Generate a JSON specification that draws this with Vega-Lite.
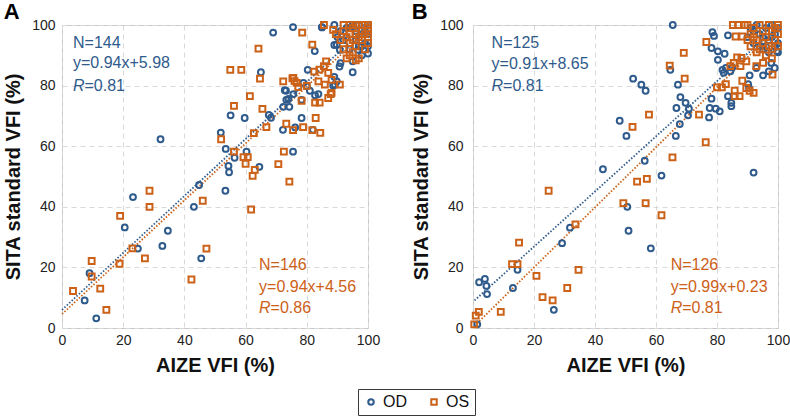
{
  "$schema": "https://vega.github.io/schema/vega-lite/v6.json",
  "background": "white",
  "padding": {"left": 3, "top": 0, "right": 0, "bottom": 0},
  "spacing": 30,
  "datasets": {
    "pts": [
      {"panel":"A","eye":"OD","x":69,"y":97.5},{"panel":"A","eye":"OD","x":75.5,"y":99.3},{"panel":"A","eye":"OD","x":85,"y":99.2},{"panel":"A","eye":"OD","x":89,"y":100},{"panel":"A","eye":"OD","x":82.6,"y":91.4},{"panel":"A","eye":"OD","x":65,"y":84.4},{"panel":"A","eye":"OD","x":80.3,"y":85.2},{"panel":"A","eye":"OD","x":55.1,"y":70.2},{"panel":"A","eye":"OD","x":59.7,"y":69.3},{"panel":"A","eye":"OD","x":67.6,"y":70.3},{"panel":"A","eye":"OD","x":68.3,"y":69.4},{"panel":"A","eye":"OD","x":72.8,"y":78.5},{"panel":"A","eye":"OD","x":73.3,"y":75.3},{"panel":"A","eye":"OD","x":74.3,"y":73},{"panel":"A","eye":"OD","x":72.3,"y":73},{"panel":"A","eye":"OD","x":72.2,"y":65.4},{"panel":"A","eye":"OD","x":76.2,"y":66.2},{"panel":"A","eye":"OD","x":78.3,"y":69.3},{"panel":"A","eye":"OD","x":75.5,"y":58.2},{"panel":"A","eye":"OD","x":78.9,"y":80.9},{"panel":"A","eye":"OD","x":80,"y":79.8},{"panel":"A","eye":"OD","x":81,"y":78.3},{"panel":"A","eye":"OD","x":82.7,"y":76.8},{"panel":"A","eye":"OD","x":83.8,"y":77.2},{"panel":"A","eye":"OD","x":73.2,"y":78.3},{"panel":"A","eye":"OD","x":75.6,"y":77.2},{"panel":"A","eye":"OD","x":74,"y":75.6},{"panel":"A","eye":"OD","x":78.3,"y":75.3},{"panel":"A","eye":"OD","x":82,"y":65.4},{"panel":"A","eye":"OD","x":88.6,"y":80},{"panel":"A","eye":"OD","x":89,"y":82.9},{"panel":"A","eye":"OD","x":89.2,"y":80.3},{"panel":"A","eye":"OD","x":89.8,"y":81.4},{"panel":"A","eye":"OD","x":90.7,"y":86.3},{"panel":"A","eye":"OD","x":91,"y":87.4},{"panel":"A","eye":"OD","x":89,"y":93.4},{"panel":"A","eye":"OD","x":95,"y":84.4},{"panel":"A","eye":"OD","x":100,"y":90.6},{"panel":"A","eye":"OD","x":96.7,"y":91.8},{"panel":"A","eye":"OD","x":97.8,"y":92.9},{"panel":"A","eye":"OD","x":51.9,"y":64.5},{"panel":"A","eye":"OD","x":53.5,"y":59.1},{"panel":"A","eye":"OD","x":56.4,"y":56.2},{"panel":"A","eye":"OD","x":60.3,"y":58.2},{"panel":"A","eye":"OD","x":54.4,"y":53.5},{"panel":"A","eye":"OD","x":54.6,"y":51.4},{"panel":"A","eye":"OD","x":64.5,"y":53.2},{"panel":"A","eye":"OD","x":53.4,"y":45.3},{"panel":"A","eye":"OD","x":44.8,"y":47.2},{"panel":"A","eye":"OD","x":32.2,"y":62.3},{"panel":"A","eye":"OD","x":23.2,"y":43.2},{"panel":"A","eye":"OD","x":43.1,"y":40},{"panel":"A","eye":"OD","x":20.5,"y":33.2},{"panel":"A","eye":"OD","x":34.6,"y":32.1},{"panel":"A","eye":"OD","x":32.8,"y":27.1},{"panel":"A","eye":"OD","x":24.8,"y":26.2},{"panel":"A","eye":"OD","x":45.5,"y":23},{"panel":"A","eye":"OD","x":9,"y":18.1},{"panel":"A","eye":"OD","x":7.4,"y":9.1},{"panel":"A","eye":"OD","x":11.2,"y":3.2},{"panel":"A","eye":"OD","x":90.8,"y":91.8},{"panel":"A","eye":"OD","x":89.8,"y":93.5},{"panel":"A","eye":"OD","x":84.9,"y":99.3},
      {"panel":"A","eye":"OD","x":91,"y":98},{"panel":"A","eye":"OD","x":93,"y":99},{"panel":"A","eye":"OD","x":95,"y":100},{"panel":"A","eye":"OD","x":96,"y":95},{"panel":"A","eye":"OD","x":98,"y":97},{"panel":"A","eye":"OD","x":99,"y":99},{"panel":"A","eye":"OD","x":100,"y":97},{"panel":"A","eye":"OD","x":97,"y":93},{"panel":"A","eye":"OD","x":94,"y":92},{"panel":"A","eye":"OD","x":92,"y":95},{"panel":"A","eye":"OD","x":100,"y":100},{"panel":"A","eye":"OD","x":98,"y":90},{"panel":"A","eye":"OD","x":90,"y":96},{"panel":"A","eye":"OD","x":96,"y":98},{"panel":"A","eye":"OD","x":99,"y":94},{"panel":"A","eye":"OD","x":93,"y":96},{"panel":"A","eye":"OD","x":97,"y":100},{"panel":"A","eye":"OD","x":100,"y":93},{"panel":"A","eye":"OD","x":95,"y":88},{"panel":"A","eye":"OD","x":94,"y":99},
      {"panel":"B","eye":"OD","x":65.5,"y":100},{"panel":"B","eye":"OD","x":78.5,"y":97.6},{"panel":"B","eye":"OD","x":79,"y":96.4},{"panel":"B","eye":"OD","x":83.6,"y":96.6},{"panel":"B","eye":"OD","x":78.2,"y":92.4},{"panel":"B","eye":"OD","x":80.3,"y":91.3},{"panel":"B","eye":"OD","x":82.5,"y":90.5},{"panel":"B","eye":"OD","x":80.3,"y":88.5},{"panel":"B","eye":"OD","x":64.7,"y":85.2},{"panel":"B","eye":"OD","x":81.8,"y":85.2},{"panel":"B","eye":"OD","x":82.9,"y":85.8},{"panel":"B","eye":"OD","x":84.4,"y":84.7},{"panel":"B","eye":"OD","x":82.2,"y":84.2},{"panel":"B","eye":"OD","x":85,"y":86},{"panel":"B","eye":"OD","x":67.2,"y":80.3},{"panel":"B","eye":"OD","x":52.5,"y":82.3},{"panel":"B","eye":"OD","x":55.2,"y":80.3},{"panel":"B","eye":"OD","x":56.6,"y":78.3},{"panel":"B","eye":"OD","x":68,"y":76.2},{"panel":"B","eye":"OD","x":69.7,"y":74.3},{"panel":"B","eye":"OD","x":70.8,"y":72.4},{"panel":"B","eye":"OD","x":70.5,"y":70.2},{"panel":"B","eye":"OD","x":66.7,"y":72.6},{"panel":"B","eye":"OD","x":67.8,"y":67.3},{"panel":"B","eye":"OD","x":48.1,"y":68.4},{"panel":"B","eye":"OD","x":77.6,"y":72.6},{"panel":"B","eye":"OD","x":79.6,"y":72.4},{"panel":"B","eye":"OD","x":80.9,"y":71.5},{"panel":"B","eye":"OD","x":77.4,"y":69.5},{"panel":"B","eye":"OD","x":78.2,"y":75.7},{"panel":"B","eye":"OD","x":83.6,"y":76.5},{"panel":"B","eye":"OD","x":84.7,"y":74.3},{"panel":"B","eye":"OD","x":84.7,"y":73.2},{"panel":"B","eye":"OD","x":90.2,"y":80.5},{"panel":"B","eye":"OD","x":90.5,"y":79.2},{"panel":"B","eye":"OD","x":97.8,"y":87.5},{"panel":"B","eye":"OD","x":97,"y":84.7},{"panel":"B","eye":"OD","x":95.1,"y":83.4},{"panel":"B","eye":"OD","x":98.9,"y":85.8},{"panel":"B","eye":"OD","x":90.7,"y":83.4},{"panel":"B","eye":"OD","x":92.9,"y":85.8},{"panel":"B","eye":"OD","x":99.7,"y":91.4},{"panel":"B","eye":"OD","x":92,"y":51.3},{"panel":"B","eye":"OD","x":50.3,"y":63.4},{"panel":"B","eye":"OD","x":56.3,"y":55.2},{"panel":"B","eye":"OD","x":42.6,"y":52.4},{"panel":"B","eye":"OD","x":61.8,"y":50.3},{"panel":"B","eye":"OD","x":66.5,"y":63.4},{"panel":"B","eye":"OD","x":50.6,"y":40},{"panel":"B","eye":"OD","x":51,"y":32.1},{"panel":"B","eye":"OD","x":58.3,"y":26.3},{"panel":"B","eye":"OD","x":31.8,"y":33.1},{"panel":"B","eye":"OD","x":29.2,"y":28},{"panel":"B","eye":"OD","x":14.6,"y":19.2},{"panel":"B","eye":"OD","x":13.1,"y":13.2},{"panel":"B","eye":"OD","x":2,"y":15.1},{"panel":"B","eye":"OD","x":3.9,"y":16.2},{"panel":"B","eye":"OD","x":4.4,"y":13.9},{"panel":"B","eye":"OD","x":4.6,"y":11.2},{"panel":"B","eye":"OD","x":26.5,"y":6},{"panel":"B","eye":"OD","x":1.4,"y":1.2},
      {"panel":"B","eye":"OD","x":90,"y":96},{"panel":"B","eye":"OD","x":91,"y":99},{"panel":"B","eye":"OD","x":92,"y":94},{"panel":"B","eye":"OD","x":93,"y":100},{"panel":"B","eye":"OD","x":94,"y":97},{"panel":"B","eye":"OD","x":95,"y":92},{"panel":"B","eye":"OD","x":96,"y":99},{"panel":"B","eye":"OD","x":97,"y":95},{"panel":"B","eye":"OD","x":98,"y":100},{"panel":"B","eye":"OD","x":99,"y":97},{"panel":"B","eye":"OD","x":100,"y":94},{"panel":"B","eye":"OD","x":100,"y":99},{"panel":"B","eye":"OD","x":94,"y":93},{"panel":"B","eye":"OD","x":97,"y":91},{"panel":"B","eye":"OD","x":92,"y":98},{"panel":"B","eye":"OD","x":99,"y":93},{"panel":"B","eye":"OD","x":95,"y":96},{"panel":"B","eye":"OD","x":98,"y":96},{"panel":"B","eye":"OD","x":96,"y":93},{"panel":"B","eye":"OD","x":100,"y":91},
      {"panel":"A","eye":"OS","x":85.6,"y":100},{"panel":"A","eye":"OS","x":88.6,"y":98.4},{"panel":"A","eye":"OS","x":89.5,"y":97},{"panel":"A","eye":"OS","x":78.5,"y":97.5},{"panel":"A","eye":"OS","x":81.8,"y":93.5},{"panel":"A","eye":"OS","x":64.2,"y":92.2},{"panel":"A","eye":"OS","x":55,"y":85.2},{"panel":"A","eye":"OS","x":58.6,"y":85.2},{"panel":"A","eye":"OS","x":64.7,"y":82.3},{"panel":"A","eye":"OS","x":72.3,"y":81.4},{"panel":"A","eye":"OS","x":75.3,"y":82.4},{"panel":"A","eye":"OS","x":76,"y":81.5},{"panel":"A","eye":"OS","x":77.2,"y":79.5},{"panel":"A","eye":"OS","x":80,"y":79.9},{"panel":"A","eye":"OS","x":82.4,"y":84.6},{"panel":"A","eye":"OS","x":84.1,"y":85.3},{"panel":"A","eye":"OS","x":85.6,"y":86.4},{"panel":"A","eye":"OS","x":86.3,"y":88},{"panel":"A","eye":"OS","x":87,"y":84.2},{"panel":"A","eye":"OS","x":83.8,"y":81.4},{"panel":"A","eye":"OS","x":85.9,"y":80.3},{"panel":"A","eye":"OS","x":88.1,"y":81.9},{"panel":"A","eye":"OS","x":90.8,"y":80.3},{"panel":"A","eye":"OS","x":88.1,"y":77.6},{"panel":"A","eye":"OS","x":87,"y":75.9},{"panel":"A","eye":"OS","x":87.8,"y":77.2},{"panel":"A","eye":"OS","x":75.6,"y":82.5},{"panel":"A","eye":"OS","x":76.7,"y":80.9},{"panel":"A","eye":"OS","x":61.4,"y":76.5},{"panel":"A","eye":"OS","x":56.2,"y":73.3},{"panel":"A","eye":"OS","x":65.5,"y":72.3},{"panel":"A","eye":"OS","x":66.8,"y":66.3},{"panel":"A","eye":"OS","x":78.8,"y":66.3},{"panel":"A","eye":"OS","x":82.7,"y":74.4},{"panel":"A","eye":"OS","x":84.2,"y":74.4},{"panel":"A","eye":"OS","x":78.3,"y":75},{"panel":"A","eye":"OS","x":82.9,"y":69.3},{"panel":"A","eye":"OS","x":81.8,"y":65.3},{"panel":"A","eye":"OS","x":84.4,"y":64.4},{"panel":"A","eye":"OS","x":73.3,"y":67.4},{"panel":"A","eye":"OS","x":75.5,"y":65.3},{"panel":"A","eye":"OS","x":62.7,"y":64.3},{"panel":"A","eye":"OS","x":52,"y":62.3},{"panel":"A","eye":"OS","x":56.2,"y":58.2},{"panel":"A","eye":"OS","x":59.3,"y":56.4},{"panel":"A","eye":"OS","x":60.7,"y":56.4},{"panel":"A","eye":"OS","x":60,"y":54.2},{"panel":"A","eye":"OS","x":63,"y":52.2},{"panel":"A","eye":"OS","x":62.3,"y":50.2},{"panel":"A","eye":"OS","x":72.5,"y":58.2},{"panel":"A","eye":"OS","x":70.7,"y":54.1},{"panel":"A","eye":"OS","x":74.3,"y":48.3},{"panel":"A","eye":"OS","x":28.6,"y":45.3},{"panel":"A","eye":"OS","x":28.6,"y":40},{"panel":"A","eye":"OS","x":19,"y":37},{"panel":"A","eye":"OS","x":46,"y":42},{"panel":"A","eye":"OS","x":61.8,"y":39.1},{"panel":"A","eye":"OS","x":23,"y":26.3},{"panel":"A","eye":"OS","x":27.1,"y":23},{"panel":"A","eye":"OS","x":18.8,"y":21.2},{"panel":"A","eye":"OS","x":47.2,"y":26.2},{"panel":"A","eye":"OS","x":42.3,"y":16},{"panel":"A","eye":"OS","x":9.7,"y":22.1},{"panel":"A","eye":"OS","x":9.7,"y":17},{"panel":"A","eye":"OS","x":12.5,"y":13},{"panel":"A","eye":"OS","x":3.6,"y":12.2},{"panel":"A","eye":"OS","x":14.5,"y":6},
      {"panel":"A","eye":"OS","x":92,"y":98},{"panel":"A","eye":"OS","x":93,"y":96},{"panel":"A","eye":"OS","x":94,"y":100},{"panel":"A","eye":"OS","x":95,"y":99},{"panel":"A","eye":"OS","x":96,"y":97},{"panel":"A","eye":"OS","x":97,"y":100},{"panel":"A","eye":"OS","x":98,"y":98},{"panel":"A","eye":"OS","x":99,"y":100},{"panel":"A","eye":"OS","x":100,"y":99},{"panel":"A","eye":"OS","x":100,"y":96},{"panel":"A","eye":"OS","x":98,"y":95},{"panel":"A","eye":"OS","x":96,"y":93},{"panel":"A","eye":"OS","x":94,"y":94},{"panel":"A","eye":"OS","x":92,"y":92},{"panel":"A","eye":"OS","x":95,"y":91},{"panel":"A","eye":"OS","x":97,"y":89},{"panel":"A","eye":"OS","x":99,"y":92},{"panel":"A","eye":"OS","x":100,"y":100},{"panel":"A","eye":"OS","x":93,"y":89},{"panel":"A","eye":"OS","x":91,"y":95},{"panel":"A","eye":"OS","x":97,"y":96},{"panel":"A","eye":"OS","x":99,"y":97},{"panel":"A","eye":"OS","x":100,"y":94},{"panel":"A","eye":"OS","x":96,"y":100},{"panel":"A","eye":"OS","x":94,"y":97},{"panel":"A","eye":"OS","x":92,"y":100},{"panel":"A","eye":"OS","x":98,"y":100},{"panel":"A","eye":"OS","x":100,"y":98},{"panel":"A","eye":"OS","x":95,"y":95},{"panel":"A","eye":"OS","x":96,"y":88.3},{"panel":"A","eye":"OS","x":94,"y":90},
      {"panel":"B","eye":"OS","x":85.2,"y":100},{"panel":"B","eye":"OS","x":86.9,"y":100},{"panel":"B","eye":"OS","x":89.1,"y":100},{"panel":"B","eye":"OS","x":86.1,"y":96.2},{"panel":"B","eye":"OS","x":88.3,"y":96.2},{"panel":"B","eye":"OS","x":76.5,"y":94.4},{"panel":"B","eye":"OS","x":69.1,"y":90.8},{"panel":"B","eye":"OS","x":64.5,"y":86.6},{"panel":"B","eye":"OS","x":69.4,"y":82.3},{"panel":"B","eye":"OS","x":57.7,"y":70.4},{"panel":"B","eye":"OS","x":52.3,"y":66.4},{"panel":"B","eye":"OS","x":74.1,"y":70.4},{"panel":"B","eye":"OS","x":80,"y":79.4},{"panel":"B","eye":"OS","x":81.6,"y":79.4},{"panel":"B","eye":"OS","x":82.9,"y":80.5},{"panel":"B","eye":"OS","x":85.8,"y":78.3},{"panel":"B","eye":"OS","x":87.4,"y":76.5},{"panel":"B","eye":"OS","x":85.8,"y":76.5},{"panel":"B","eye":"OS","x":88.3,"y":81.6},{"panel":"B","eye":"OS","x":89.6,"y":79.2},{"panel":"B","eye":"OS","x":90.7,"y":78.3},{"panel":"B","eye":"OS","x":92,"y":77.6},{"panel":"B","eye":"OS","x":84.4,"y":86.4},{"panel":"B","eye":"OS","x":85.5,"y":87.5},{"panel":"B","eye":"OS","x":87.7,"y":86.4},{"panel":"B","eye":"OS","x":86.6,"y":89.3},{"panel":"B","eye":"OS","x":88,"y":89.1},{"panel":"B","eye":"OS","x":89.6,"y":88},{"panel":"B","eye":"OS","x":92.9,"y":86.4},{"panel":"B","eye":"OS","x":95.1,"y":87.5},{"panel":"B","eye":"OS","x":98.2,"y":83.6},{"panel":"B","eye":"OS","x":65.4,"y":56.3},{"panel":"B","eye":"OS","x":76.3,"y":61.3},{"panel":"B","eye":"OS","x":53.8,"y":48.3},{"panel":"B","eye":"OS","x":57,"y":49.2},{"panel":"B","eye":"OS","x":24.8,"y":45.3},{"panel":"B","eye":"OS","x":49.3,"y":41.2},{"panel":"B","eye":"OS","x":56.6,"y":41.2},{"panel":"B","eye":"OS","x":61.8,"y":37.2},{"panel":"B","eye":"OS","x":33.6,"y":34.2},{"panel":"B","eye":"OS","x":15.1,"y":28.2},{"panel":"B","eye":"OS","x":12.8,"y":21.1},{"panel":"B","eye":"OS","x":14.6,"y":21.1},{"panel":"B","eye":"OS","x":20.8,"y":17.2},{"panel":"B","eye":"OS","x":34.6,"y":19.2},{"panel":"B","eye":"OS","x":30.9,"y":13.2},{"panel":"B","eye":"OS","x":22.8,"y":10.2},{"panel":"B","eye":"OS","x":26.1,"y":9.1},{"panel":"B","eye":"OS","x":9.1,"y":5.3},{"panel":"B","eye":"OS","x":1.9,"y":5.3},{"panel":"B","eye":"OS","x":0.9,"y":4.1},{"panel":"B","eye":"OS","x":0.4,"y":1.2},
      {"panel":"B","eye":"OS","x":90,"y":100},{"panel":"B","eye":"OS","x":91,"y":97},{"panel":"B","eye":"OS","x":92,"y":99},{"panel":"B","eye":"OS","x":93,"y":95},{"panel":"B","eye":"OS","x":94,"y":100},{"panel":"B","eye":"OS","x":95,"y":98},{"panel":"B","eye":"OS","x":96,"y":96},{"panel":"B","eye":"OS","x":97,"y":100},{"panel":"B","eye":"OS","x":98,"y":98},{"panel":"B","eye":"OS","x":99,"y":95},{"panel":"B","eye":"OS","x":100,"y":100},{"panel":"B","eye":"OS","x":100,"y":97},{"panel":"B","eye":"OS","x":91,"y":93},{"panel":"B","eye":"OS","x":93,"y":91},{"panel":"B","eye":"OS","x":95,"y":94},{"panel":"B","eye":"OS","x":97,"y":93},{"panel":"B","eye":"OS","x":99,"y":99},{"panel":"B","eye":"OS","x":92,"y":96},{"panel":"B","eye":"OS","x":96,"y":90},{"panel":"B","eye":"OS","x":98,"y":92},{"panel":"B","eye":"OS","x":100,"y":93},{"panel":"B","eye":"OS","x":94,"y":92},{"panel":"B","eye":"OS","x":90,"y":95},{"panel":"B","eye":"OS","x":98,"y":89}
    ],
    "fits": [
      {"panel":"A","eye":"OD","x":0,"y":5.98},{"panel":"A","eye":"OD","x":100,"y":99.98},
      {"panel":"A","eye":"OS","x":0,"y":4.56},{"panel":"A","eye":"OS","x":100,"y":98.56},
      {"panel":"B","eye":"OD","x":0.5,"y":9.1},{"panel":"B","eye":"OD","x":100,"y":99.65},
      {"panel":"B","eye":"OS","x":0.5,"y":0.7},{"panel":"B","eye":"OS","x":100,"y":99.23}
    ],
    "notes": [
      {"panel":"A","eye":"OD","x":3.6,"y":94.1,"line":"N=144","kind":"plain"},
      {"panel":"A","eye":"OD","x":3.6,"y":87.5,"line":"y=0.94x+5.98","kind":"plain"},
      {"panel":"A","eye":"OD","x":3.6,"y":79.9,"line":"R","kind":"italic"},
      {"panel":"A","eye":"OD","x":3.6,"y":79.9,"line":"=0.81","kind":"rest"},
      {"panel":"A","eye":"OS","x":64.4,"y":20.8,"line":"N=146","kind":"plain"},
      {"panel":"A","eye":"OS","x":64.4,"y":13.6,"line":"y=0.94x+4.56","kind":"plain"},
      {"panel":"A","eye":"OS","x":64.4,"y":6.5,"line":"R","kind":"italic"},
      {"panel":"A","eye":"OS","x":64.4,"y":6.5,"line":"=0.86","kind":"rest"},
      {"panel":"B","eye":"OD","x":6.1,"y":94.2,"line":"N=125","kind":"plain"},
      {"panel":"B","eye":"OD","x":6.1,"y":87.1,"line":"y=0.91x+8.65","kind":"plain"},
      {"panel":"B","eye":"OD","x":6.1,"y":79.9,"line":"R","kind":"italic"},
      {"panel":"B","eye":"OD","x":6.1,"y":79.9,"line":"=0.81","kind":"rest"},
      {"panel":"B","eye":"OS","x":64.8,"y":20.8,"line":"N=126","kind":"plain"},
      {"panel":"B","eye":"OS","x":64.8,"y":13.6,"line":"y=0.99x+0.23","kind":"plain"},
      {"panel":"B","eye":"OS","x":64.8,"y":6.5,"line":"R","kind":"italic"},
      {"panel":"B","eye":"OS","x":64.8,"y":6.5,"line":"=0.81","kind":"rest"}
    ]
  },
  "hconcat": [
    {
      "width": 306, "height": 303,
      "title": {"text": "A"},
      "encoding": {
        "x": {"field": "x", "type": "quantitative", "scale": {"domain": [0, 100], "nice": false},
              "axis": {"title": "AIZE VFI (%)", "values": [0,20,40,60,80,100]}},
        "y": {"field": "y", "type": "quantitative", "scale": {"domain": [0, 100], "nice": false},
              "axis": {"title": "SITA standard VFI (%)", "values": [0,20,40,60,80,100], "labelPadding": 7}}
      },
      "layer": [
        {"data": {"name": "fits"}, "transform": [{"filter": "datum.panel === 'A'"}],
         "mark": {"type": "line", "strokeDash": [1.5, 1.8], "strokeWidth": 1.8},
         "encoding": {"detail": {"field": "eye"}, "stroke": {"value": "#2F5B8C", "condition": {"test": "datum.eye === 'OS'", "value": "#CC6118"}}}},
        {"data": {"name": "pts"}, "transform": [{"filter": "datum.panel === 'A'"}],
         "mark": {"type": "point", "filled": false, "strokeWidth": 2, "opacity": 1, "size": 34},
         "encoding": {
           "color": {"field": "eye", "type": "nominal", "scale": {"domain": ["OD","OS"], "range": ["#2F5B8C","#CC6118"]},
                     "legend": {"title": null, "orient": "none", "legendX": 296, "legendY": 364, "direction": "horizontal"}},
           "shape": {"field": "eye", "type": "nominal", "scale": {"domain": ["OD","OS"], "range": ["circle","square"]},
                     "legend": {"title": null, "orient": "none", "legendX": 296, "legendY": 364, "direction": "horizontal"}}
         }},
        {"data": {"name": "notes"}, "transform": [{"filter": "datum.panel === 'A' && datum.kind === 'plain'"}],
         "mark": {"type": "text", "align": "left", "baseline": "middle", "fontSize": 16},
         "encoding": {"text": {"field": "line"}, "fill": {"value": "#2F5B8C", "condition": {"test": "datum.eye === 'OS'", "value": "#CC6118"}}}},
        {"data": {"name": "notes"}, "transform": [{"filter": "datum.panel === 'A' && datum.kind === 'italic'"}],
         "mark": {"type": "text", "align": "left", "baseline": "middle", "fontSize": 16, "fontStyle": "italic"},
         "encoding": {"text": {"field": "line"}, "fill": {"value": "#2F5B8C", "condition": {"test": "datum.eye === 'OS'", "value": "#CC6118"}}}},
        {"data": {"name": "notes"}, "transform": [{"filter": "datum.panel === 'A' && datum.kind === 'rest'"}],
         "mark": {"type": "text", "align": "left", "baseline": "middle", "fontSize": 16, "dx": 11.5},
         "encoding": {"text": {"field": "line"}, "fill": {"value": "#2F5B8C", "condition": {"test": "datum.eye === 'OS'", "value": "#CC6118"}}}}
      ]
    },
    {
      "width": 305, "height": 303,
      "title": {"text": "B"},
      "encoding": {
        "x": {"field": "x", "type": "quantitative", "scale": {"domain": [0, 100], "nice": false},
              "axis": {"title": "AIZE VFI (%)", "values": [0,20,40,60,80,100]}},
        "y": {"field": "y", "type": "quantitative", "scale": {"domain": [0, 100], "nice": false},
              "axis": {"title": "SITA standard VFI (%)", "values": [0,20,40,60,80,100], "labelPadding": 10}}
      },
      "layer": [
        {"data": {"name": "fits"}, "transform": [{"filter": "datum.panel === 'B'"}],
         "mark": {"type": "line", "strokeDash": [1.5, 1.8], "strokeWidth": 1.8},
         "encoding": {"detail": {"field": "eye"}, "stroke": {"value": "#2F5B8C", "condition": {"test": "datum.eye === 'OS'", "value": "#CC6118"}}}},
        {"data": {"name": "pts"}, "transform": [{"filter": "datum.panel === 'B'"}],
         "mark": {"type": "point", "filled": false, "strokeWidth": 2, "opacity": 1, "size": 34},
         "encoding": {
           "color": {"field": "eye", "type": "nominal", "scale": {"domain": ["OD","OS"], "range": ["#2F5B8C","#CC6118"]},
                     "legend": {"title": null, "orient": "none", "legendX": 296, "legendY": 364, "direction": "horizontal"}},
           "shape": {"field": "eye", "type": "nominal", "scale": {"domain": ["OD","OS"], "range": ["circle","square"]},
                     "legend": {"title": null, "orient": "none", "legendX": 296, "legendY": 364, "direction": "horizontal"}}
         }},
        {"data": {"name": "notes"}, "transform": [{"filter": "datum.panel === 'B' && datum.kind === 'plain'"}],
         "mark": {"type": "text", "align": "left", "baseline": "middle", "fontSize": 16},
         "encoding": {"text": {"field": "line"}, "fill": {"value": "#2F5B8C", "condition": {"test": "datum.eye === 'OS'", "value": "#CC6118"}}}},
        {"data": {"name": "notes"}, "transform": [{"filter": "datum.panel === 'B' && datum.kind === 'italic'"}],
         "mark": {"type": "text", "align": "left", "baseline": "middle", "fontSize": 16, "fontStyle": "italic"},
         "encoding": {"text": {"field": "line"}, "fill": {"value": "#2F5B8C", "condition": {"test": "datum.eye === 'OS'", "value": "#CC6118"}}}},
        {"data": {"name": "notes"}, "transform": [{"filter": "datum.panel === 'B' && datum.kind === 'rest'"}],
         "mark": {"type": "text", "align": "left", "baseline": "middle", "fontSize": 16, "dx": 11.5},
         "encoding": {"text": {"field": "line"}, "fill": {"value": "#2F5B8C", "condition": {"test": "datum.eye === 'OS'", "value": "#CC6118"}}}}
      ]
    }
  ],
  "config": {
    "font": "Liberation Sans",
    "view": {"stroke": "#C8C8C8", "strokeWidth": 1},
    "title": {"anchor": "start", "frame": "bounds", "fontSize": 22, "fontWeight": "bold", "color": "#000", "offset": -6},
    "axis": {
      "grid": true, "gridColor": "#D9D9D9", "gridDash": [5, 4], "gridWidth": 1,
      "domain": false, "ticks": false,
      "labelFontSize": 14, "labelColor": "#222", "labelFlush": false, "labelPadding": 5,
      "titleFontSize": 20, "titleFontWeight": "bold", "titleColor": "#111", "titlePadding": 8
    },
    "legend": {
      "labelFontSize": 16, "labelColor": "#111", "strokeColor": "#3A3A3A", "fillColor": "white",
      "padding": 5, "columnPadding": 19, "symbolStrokeWidth": 2, "symbolSize": 30, "labelOffset": 4
    }
  }
}
